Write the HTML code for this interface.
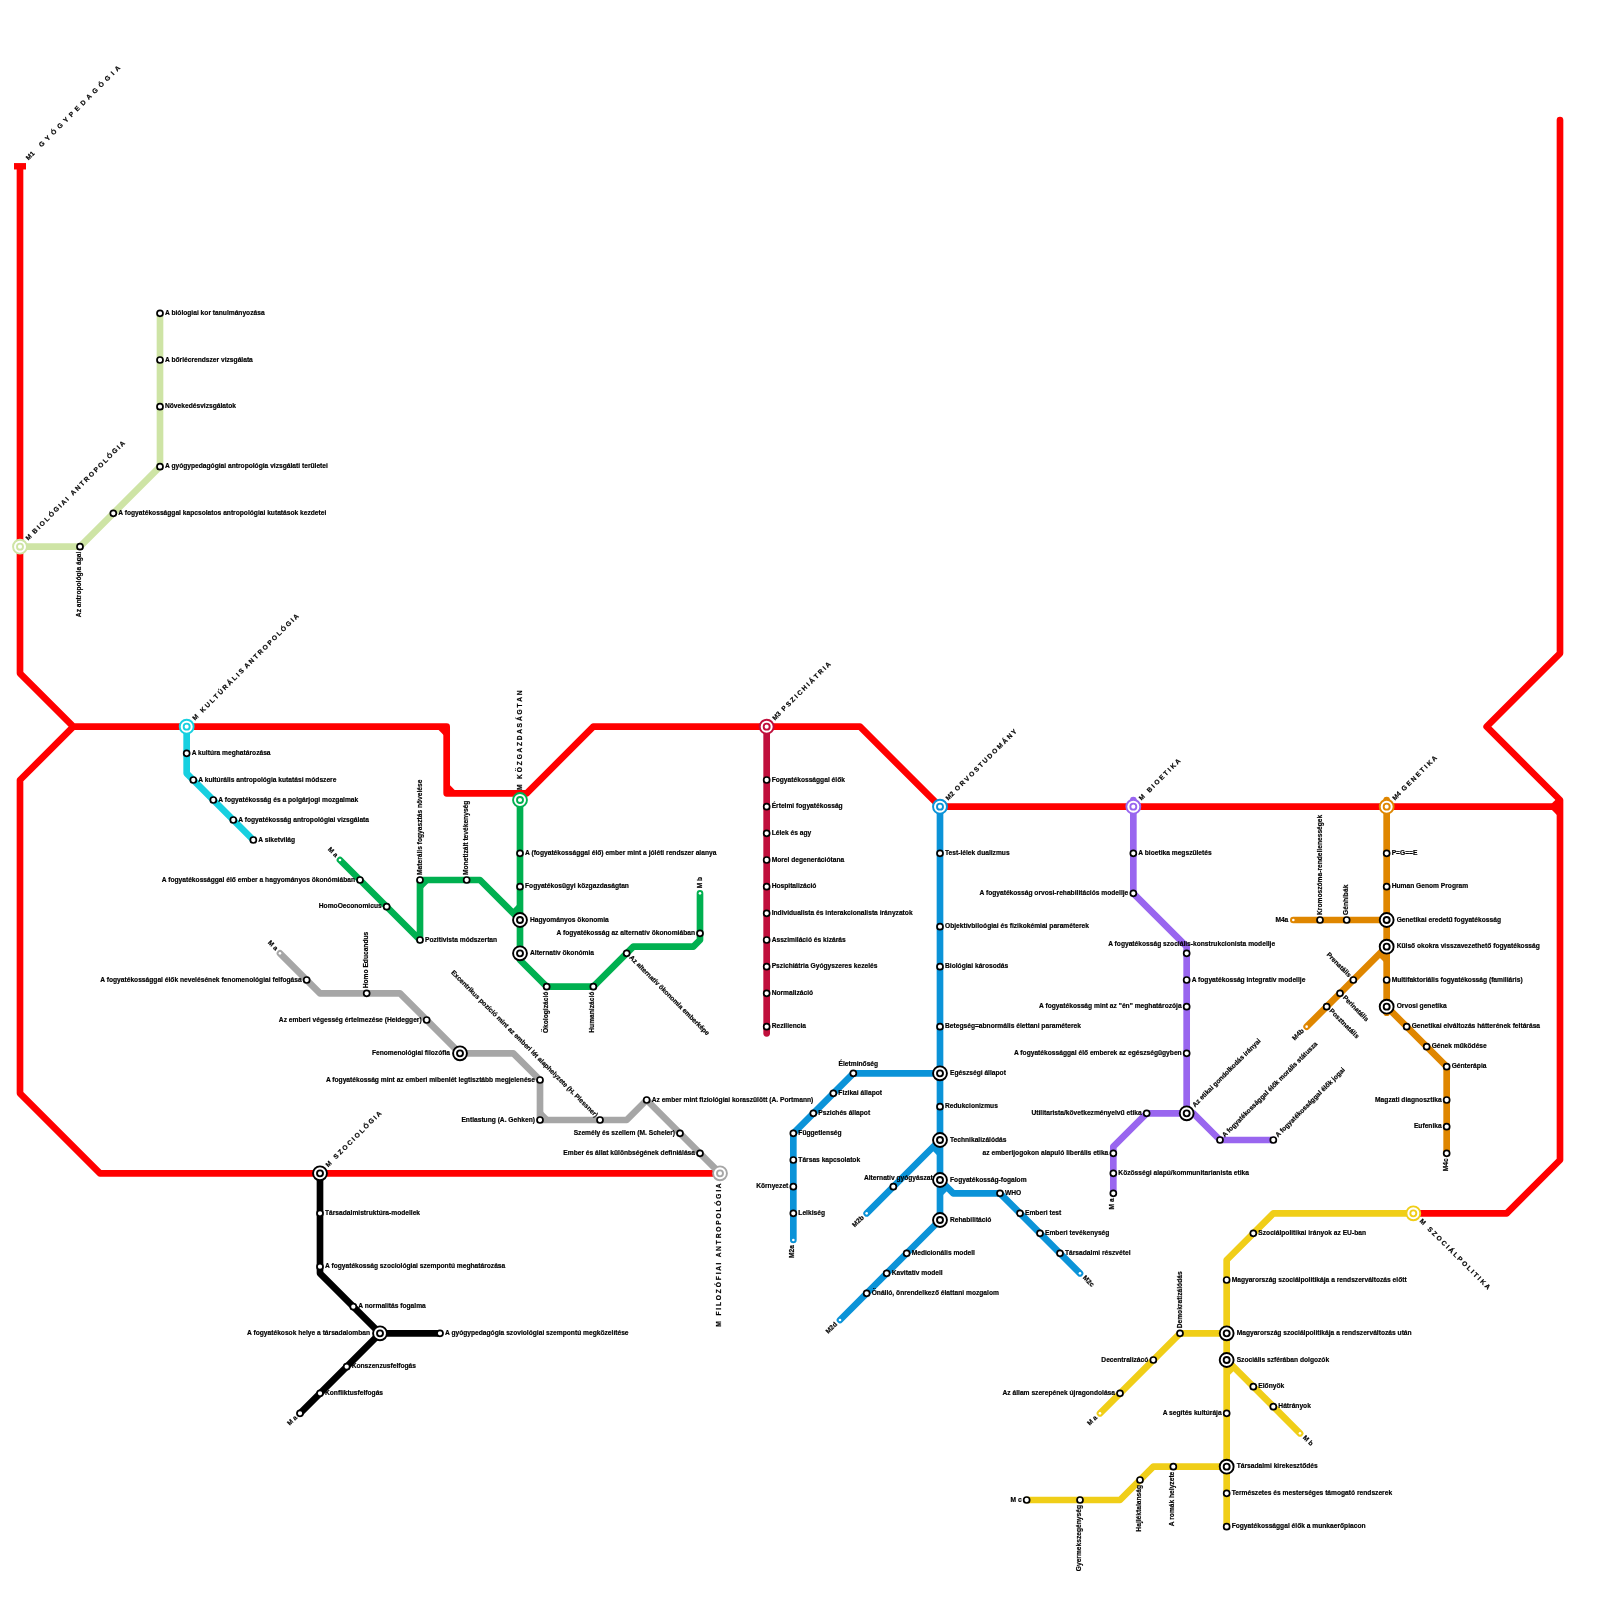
<!DOCTYPE html>
<html><head><meta charset="utf-8"><title>Metro map</title>
<style>
html,body{margin:0;padding:0;background:#fff}
svg{display:block;will-change:transform}
text{font-family:"Liberation Sans",sans-serif;font-weight:bold;font-size:6.6667px;fill:#000;stroke:#000;stroke-width:0.18px}
</style></head><body>
<svg width="1600" height="1600" viewBox="0 0 1600 1600">
<rect width="1600" height="1600" fill="#fff"/>
<path d="M20 166.67 L20 673.33 L73.33 726.67 L446.67 726.67 L446.67 793.33 L526.67 793.33 L593.33 726.67 L860 726.67 L940 806.67 L1560 806.67" stroke="#ff0000" stroke-width="6.67" stroke-linecap="butt" stroke-linejoin="round" fill="none"/>
<path d="M73.33 726.67 L20 780 L20 1093.33 L100 1173.33 L720 1173.33" stroke="#ff0000" stroke-width="6.67" stroke-linecap="butt" stroke-linejoin="round" fill="none"/>
<path d="M1560 120 L1560 653.33 L1486.67 726.67 L1560 800 L1560 1160 L1506.67 1213.33 L1413.33 1213.33" stroke="#ff0000" stroke-width="6.67" stroke-linecap="round" stroke-linejoin="round" fill="none"/>
<path d="M440 726.67 L446.67 733.33" stroke="#ff0000" stroke-width="6.67" stroke-linecap="butt" stroke-linejoin="round" fill="none"/>
<path d="M446.67 786.67 L453.33 793.33" stroke="#ff0000" stroke-width="6.67" stroke-linecap="butt" stroke-linejoin="round" fill="none"/>
<path d="M1553.33 806.67 L1560 813.33" stroke="#ff0000" stroke-width="6.67" stroke-linecap="butt" stroke-linejoin="round" fill="none"/>
<path d="M1553.33 806.67 L1560 800" stroke="#ff0000" stroke-width="6.67" stroke-linecap="butt" stroke-linejoin="round" fill="none"/>
<rect x="14" y="163.07" width="12.0" height="6.4" fill="#ff0000"/>
<path d="M20 546.67 L80 546.67 L160 466.67 L160 313.33" stroke="#cee4a5" stroke-width="6.67" stroke-linecap="butt" stroke-linejoin="round" fill="none"/>
<path d="M186.67 726.67 L186.67 773.33 L253.33 840" stroke="#17d0e0" stroke-width="6.67" stroke-linecap="butt" stroke-linejoin="round" fill="none"/>
<path d="M520 800 L520 960 L546.67 986.67 L593.33 986.67 L633.33 946.67 L693.33 946.67 L700 940 L700 893.33" stroke="#00b050" stroke-width="6.67" stroke-linecap="round" stroke-linejoin="round" fill="none"/>
<path d="M340 860 L420 940 L420 880 L480 880 L520 920" stroke="#00b050" stroke-width="6.67" stroke-linecap="round" stroke-linejoin="round" fill="none"/>
<path d="M420 886.67 L426.67 880" stroke="#00b050" stroke-width="6.67" stroke-linecap="butt" stroke-linejoin="round" fill="none"/>
<path d="M513.33 913.33 L520 906.67" stroke="#00b050" stroke-width="6.67" stroke-linecap="butt" stroke-linejoin="round" fill="none"/>
<path d="M280 953.33 L320 993.33 L400 993.33 L460 1053.33 L513.33 1053.33 L540 1080 L540 1120 L626.67 1120 L646.67 1100 L720 1173.33" stroke="#a6a6a6" stroke-width="6.67" stroke-linecap="round" stroke-linejoin="round" fill="none"/>
<path d="M540 1113.33 L546.67 1120" stroke="#a6a6a6" stroke-width="6.67" stroke-linecap="butt" stroke-linejoin="round" fill="none"/>
<path d="M320 1173.33 L320 1273.33 L380 1333.33 L440 1333.33" stroke="#000000" stroke-width="6.67" stroke-linecap="round" stroke-linejoin="round" fill="none"/>
<path d="M380 1333.33 L300 1413.33" stroke="#000000" stroke-width="6.67" stroke-linecap="round" stroke-linejoin="round" fill="none"/>
<path d="M766.67 726.67 L766.67 1033.33" stroke="#c00f3c" stroke-width="6.67" stroke-linecap="round" stroke-linejoin="round" fill="none"/>
<path d="M940 806.67 L940 1220 L840 1320" stroke="#0b93d8" stroke-width="6.67" stroke-linecap="round" stroke-linejoin="round" fill="none"/>
<path d="M940 1073.33 L853.33 1073.33 L793.33 1133.33 L793.33 1240" stroke="#0b93d8" stroke-width="6.67" stroke-linecap="round" stroke-linejoin="round" fill="none"/>
<path d="M940 1140 L866.67 1213.33" stroke="#0b93d8" stroke-width="6.67" stroke-linecap="round" stroke-linejoin="round" fill="none"/>
<path d="M940 1180 L953.33 1193.33 L1000 1193.33 L1080 1273.33" stroke="#0b93d8" stroke-width="6.67" stroke-linecap="round" stroke-linejoin="round" fill="none"/>
<path d="M933.33 1146.67 L940 1153.33" stroke="#0b93d8" stroke-width="6.67" stroke-linecap="butt" stroke-linejoin="round" fill="none"/>
<path d="M946.67 1186.67 L940 1193.33" stroke="#0b93d8" stroke-width="6.67" stroke-linecap="butt" stroke-linejoin="round" fill="none"/>
<path d="M1133.33 800 L1133.33 893.33 L1186.67 946.67 L1186.67 1113.33 L1146.67 1113.33 L1113.33 1146.67 L1113.33 1193.33" stroke="#9966ef" stroke-width="6.67" stroke-linecap="round" stroke-linejoin="round" fill="none"/>
<path d="M1186.67 1113.33 L1193.33 1113.33 L1220 1140 L1273.33 1140" stroke="#9966ef" stroke-width="6.67" stroke-linecap="round" stroke-linejoin="round" fill="none"/>
<path d="M1386.67 800 L1386.67 1006.67 L1446.67 1066.67 L1446.67 1153.33" stroke="#df8600" stroke-width="6.67" stroke-linecap="round" stroke-linejoin="round" fill="none"/>
<path d="M1386.67 1006.67 L1386.67 1012.67" stroke="#df8600" stroke-width="6.67" stroke-linecap="round" stroke-linejoin="round" fill="none"/>
<path d="M1380 953.33 L1386.67 960" stroke="#df8600" stroke-width="6.67" stroke-linecap="butt" stroke-linejoin="round" fill="none"/>
<path d="M1386.67 920 L1293.33 920" stroke="#df8600" stroke-width="6.67" stroke-linecap="round" stroke-linejoin="round" fill="none"/>
<path d="M1386.67 946.67 L1306.67 1026.67" stroke="#df8600" stroke-width="6.67" stroke-linecap="round" stroke-linejoin="round" fill="none"/>
<path d="M1413.33 1213.33 L1273.33 1213.33 L1226.67 1260 L1226.67 1526.67" stroke="#f0ce18" stroke-width="6.67" stroke-linecap="round" stroke-linejoin="round" fill="none"/>
<path d="M1226.67 1333.33 L1180 1333.33 L1100 1413.33" stroke="#f0ce18" stroke-width="6.67" stroke-linecap="round" stroke-linejoin="round" fill="none"/>
<path d="M1226.67 1360 L1300 1433.33" stroke="#f0ce18" stroke-width="6.67" stroke-linecap="round" stroke-linejoin="round" fill="none"/>
<path d="M1233.33 1366.67 L1226.67 1373.33" stroke="#f0ce18" stroke-width="6.67" stroke-linecap="butt" stroke-linejoin="round" fill="none"/>
<path d="M1226.67 1466.67 L1153.33 1466.67 L1120 1500 L1026.67 1500" stroke="#f0ce18" stroke-width="6.67" stroke-linecap="round" stroke-linejoin="round" fill="none"/>
<text x="165" y="314.93">A biólogiai kor tanulmányozása</text>
<text x="165" y="361.6">A bőrlécrendszer vizsgálata</text>
<text x="165" y="408.27">Növekedésvizsgálatok</text>
<text x="165" y="468.27">A gyógypedagógiai antropológia vizsgálati területei</text>
<text x="118.33" y="514.93">A fogyatékossággal kapcsolatos antropológiai kutatások kezdetei</text>
<text transform="translate(80 546.67) rotate(-90)" x="-5" y="0.9" text-anchor="end">Az antropológia ágai</text>
<text x="191.67" y="754.93">A kultúra meghatározása</text>
<text x="198.33" y="781.6">A kultúrális antropológia kutatási módszere</text>
<text x="218.33" y="801.6">A fogyatékosság és a polgárjogi mozgalmak</text>
<text x="238.33" y="821.6">A fogyatékosság antropológiai vizsgálata</text>
<text x="258.33" y="841.6">A siketvilág</text>
<text x="525" y="854.93">A (fogyatékossággal élő) ember mint a jóléti rendszer alanya</text>
<text x="525" y="888.27">Fogyatékosügyi közgazdaságtan</text>
<text x="530" y="921.6">Hagyományos ökonomia</text>
<text x="530" y="954.93">Alternatív ökonómia</text>
<text transform="translate(546.67 986.67) rotate(-90)" x="-5" y="0.9" text-anchor="end">Ökologizáció</text>
<text transform="translate(593.33 986.67) rotate(-90)" x="-5" y="0.9" text-anchor="end">Humanizáció</text>
<text transform="translate(626.67 953.33) rotate(45)" x="5" y="1.6">Az alternatív ökonomia emberképe</text>
<text x="695" y="934.93" text-anchor="end">A fogyatékosság az alternatív ökonomiában</text>
<text transform="translate(700 893.33) rotate(-90)" x="5" y="1.6">M b</text>
<text transform="translate(420 880) rotate(-90)" x="5" y="1.6">Materális fogyasztás növelése</text>
<text transform="translate(466.67 880) rotate(-90)" x="5" y="1.6">Monetizált tevékenység</text>
<text x="425" y="941.6">Pozitivista módszertan</text>
<text x="381.67" y="908.27" text-anchor="end">HomoOeconomicus</text>
<text x="355" y="881.6" text-anchor="end">A fogyatékossággal élő ember a hagyományos ökonómiában</text>
<text transform="translate(340 860) rotate(45)" x="-5" y="1.6" text-anchor="end">M a</text>
<text transform="translate(280 953.33) rotate(45)" x="-5" y="1.6" text-anchor="end">M a</text>
<text x="301.67" y="981.6" text-anchor="end">A fogyatékossággal élők nevelésének fenomenológiai felfogása</text>
<text transform="translate(366.67 993.33) rotate(-90)" x="5" y="1.6">Homo Educandus</text>
<text x="421.67" y="1021.6" text-anchor="end">Az emberi végesség értelmezése (Heidegger)</text>
<text x="450" y="1054.93" text-anchor="end">Fenomenológiai filozófia</text>
<text x="535" y="1081.6" text-anchor="end">A fogyatékosság mint az emberi mibenlét legtisztább megjelenése</text>
<text x="535" y="1121.6" text-anchor="end">Entlastung (A. Gehken)</text>
<text transform="translate(600 1120) rotate(45)" x="-5" y="1.6" text-anchor="end">Excentrikus pozíció mint az emberi lét alaphelyzete (H. Plessner)</text>
<text x="651.67" y="1101.6">Az ember mint fiziológiai koraszülött (A. Portmann)</text>
<text x="675" y="1134.93" text-anchor="end">Személy és szellem (M. Scheler)</text>
<text x="695" y="1154.93" text-anchor="end">Ember és állat különbségének definiálása</text>
<text x="325" y="1214.93">Társadalmistruktúra-modellek</text>
<text x="325" y="1268.27">A fogyatékosság szociológiai szempontú meghatározása</text>
<text x="358.33" y="1308.27">A normalitás fogalma</text>
<text x="370" y="1334.93" text-anchor="end">A fogyatékosok helye a társadalomban</text>
<text x="445" y="1334.93">A gyógypedagógia szoviológiai szempontú megközelítése</text>
<text x="351.67" y="1368.27">Konszenzusfelfogás</text>
<text x="325" y="1394.93">Konfliktusfelfogás</text>
<text transform="translate(300 1413.33) rotate(-45)" x="-5" y="1.6" text-anchor="end">M a</text>
<text x="771.67" y="781.6">Fogyatékossággal élők</text>
<text x="771.67" y="808.27">Értelmi fogyatékosság</text>
<text x="771.67" y="834.93">Lélek és agy</text>
<text x="771.67" y="861.6">Morel degenerációtana</text>
<text x="771.67" y="888.27">Hospitalizáció</text>
<text x="771.67" y="914.93">Individualista és interakcionalista irányzatok</text>
<text x="771.67" y="941.6">Asszimiláció és kizárás</text>
<text x="771.67" y="968.27">Pszichiátria Gyógyszeres kezelés</text>
<text x="771.67" y="994.93">Normalizáció</text>
<text x="771.67" y="1028.27">Reziliencia</text>
<text x="945" y="854.93">Test-lélek dualizmus</text>
<text x="945" y="928.27">Objektívbiloógiai és fizikokémiai paraméterek</text>
<text x="945" y="968.27">Biológiai károsodás</text>
<text x="945" y="1028.27">Betegség=abnormális élettani paraméterek</text>
<text x="950" y="1074.93">Egészségi állapot</text>
<text x="945" y="1108.27">Redukcionizmus</text>
<text x="950" y="1141.6">Technikalizálódás</text>
<text x="950" y="1181.6">Fogyatékosság-fogalom</text>
<text x="950" y="1221.6">Rehabilitáció</text>
<text x="858.33" y="1066.43" text-anchor="middle">Életminőség</text>
<text x="838.33" y="1094.93">Fizikai állapot</text>
<text x="818.33" y="1114.93">Pszichés állapot</text>
<text x="798.33" y="1134.93">Függetlenség</text>
<text x="798.33" y="1161.6">Társas kapcsolatok</text>
<text x="788.33" y="1188.27" text-anchor="end">Környezet</text>
<text x="798.33" y="1214.93">Lelkiség</text>
<text transform="translate(793.33 1240) rotate(-90)" x="-5" y="0.9" text-anchor="end">M2a</text>
<text x="898.33" y="1179.77" text-anchor="middle">Alternatív gyógyászat</text>
<text transform="translate(866.67 1213.33) rotate(-45)" x="-5" y="1.6" text-anchor="end">M2b</text>
<text x="1005" y="1194.93">WHO</text>
<text x="1025" y="1214.93">Emberi test</text>
<text x="1045" y="1234.93">Emberi tevékenység</text>
<text x="1065" y="1254.93">Társadalmi részvétel</text>
<text transform="translate(1080 1273.33) rotate(45)" x="5" y="1.6">M2c</text>
<text x="911.67" y="1254.93">Medicionális modell</text>
<text x="891.67" y="1274.93">Kavitatív modell</text>
<text x="871.67" y="1294.93">Önálló, önrendelkező élattani mozgalom</text>
<text transform="translate(840 1320) rotate(-45)" x="-5" y="1.6" text-anchor="end">M2d</text>
<text x="1138.33" y="854.93">A bioetika megszületés</text>
<text x="1128.33" y="894.93" text-anchor="end">A fogyatékosság orvosi-rehabilitációs modellje</text>
<text x="1191.67" y="946.43" text-anchor="middle">A fogyatékosság szociális-konstrukcionista modellje</text>
<text x="1191.67" y="981.6">A fogyatékosság integratív modellje</text>
<text x="1181.67" y="1008.27" text-anchor="end">A fogyatékosság mint az &quot;én&quot; meghatározója</text>
<text x="1181.67" y="1054.93" text-anchor="end">A fogyatékossággal élő emberek az egészségügyben</text>
<text transform="translate(1186.67 1113.33) rotate(-45)" x="10" y="1.6">Az etikai gondolkodás irányai</text>
<text x="1141.67" y="1114.93" text-anchor="end">Utilitarista/következményelvű etika</text>
<text transform="translate(1220 1140) rotate(-45)" x="5" y="1.6">A fogyatékossággal élők morális státusza</text>
<text transform="translate(1273.33 1140) rotate(-45)" x="5" y="1.6">A fogyatékossággal élők jogai</text>
<text x="1108.33" y="1154.93" text-anchor="end">az emberijogokon alapuló liberális etika</text>
<text x="1118.33" y="1174.93">Közösségi alapú/kommunitarianista etika</text>
<text transform="translate(1113.33 1193.33) rotate(-90)" x="-5" y="0.9" text-anchor="end">M a</text>
<text x="1391.67" y="854.93">P=G==E</text>
<text x="1391.67" y="888.27">Human Genom Program</text>
<text x="1396.67" y="921.6">Genetikai eredetű fogyatékosság</text>
<text x="1396.67" y="948.27">Külső okokra visszavezethető fogyatékosság</text>
<text x="1391.67" y="981.6">Multifaktoriális fogyatékosság (familiáris)</text>
<text x="1396.67" y="1008.27">Orvosi genetika</text>
<text x="1288.33" y="921.6" text-anchor="end">M4a</text>
<text transform="translate(1320 920) rotate(-90)" x="5" y="1.6">Kromoszóma-rendellenességek</text>
<text transform="translate(1346.67 920) rotate(-90)" x="5" y="1.6">Génhibák</text>
<text transform="translate(1353.33 980) rotate(45)" x="-5" y="1.6" text-anchor="end">Prenatális</text>
<text transform="translate(1340 993.33) rotate(45)" x="5" y="1.6">Perinatális</text>
<text transform="translate(1326.67 1006.67) rotate(45)" x="5" y="1.6">Posztnatális</text>
<text transform="translate(1306.67 1026.67) rotate(-45)" x="-5" y="1.6" text-anchor="end">M4b</text>
<text x="1411.67" y="1028.27">Genetikai elváltozás hátterének feltárása</text>
<text x="1431.67" y="1048.27">Gének működése</text>
<text x="1451.67" y="1068.27">Génterápia</text>
<text x="1441.67" y="1101.6" text-anchor="end">Magzati diagnosztika</text>
<text x="1441.67" y="1128.27" text-anchor="end">Eufenika</text>
<text transform="translate(1446.67 1153.33) rotate(-90)" x="-5" y="0.9" text-anchor="end">M4c</text>
<text x="1258.33" y="1234.93">Szociálpolitikai irányok az EU-ban</text>
<text x="1231.67" y="1281.6">Magyarország szociálpolitikája a rendszerváltozás előtt</text>
<text x="1236.67" y="1334.93">Magyarország szociálpolitikája a rendszerváltozás után</text>
<text x="1236.67" y="1361.6">Szociális szférában dolgozók</text>
<text x="1221.67" y="1414.93" text-anchor="end">A segítés kultúrája</text>
<text x="1236.67" y="1468.27">Társadalmi kirekesztődés</text>
<text x="1231.67" y="1494.93">Természetes és mesterséges támogató rendszerek</text>
<text x="1231.67" y="1528.27">Fogyatékossággal élők a munkaerőpiacon</text>
<text transform="translate(1180 1333.33) rotate(-90)" x="5" y="1.6">Demokratizálódás</text>
<text x="1148.33" y="1361.6" text-anchor="end">Decentralizácó</text>
<text x="1115" y="1394.93" text-anchor="end">Az állam szerepének újragondolása</text>
<text transform="translate(1100 1413.33) rotate(-45)" x="-5" y="1.6" text-anchor="end">M a</text>
<text x="1258.33" y="1388.27">Előnyök</text>
<text x="1278.33" y="1408.27">Hátrányok</text>
<text transform="translate(1300 1433.33) rotate(45)" x="5" y="1.6">M b</text>
<text transform="translate(1173.33 1466.67) rotate(-90)" x="-5" y="0.9" text-anchor="end">A romák helyzete</text>
<text transform="translate(1140 1480) rotate(-90)" x="-5" y="0.9" text-anchor="end">Hajléktalanság</text>
<text transform="translate(1080 1500) rotate(-90)" x="-5" y="0.9" text-anchor="end">Gyermekszegénység</text>
<text x="1021.67" y="1501.6" text-anchor="end">M c</text>
<text transform="translate(20 166.67) rotate(-45)" x="10.4" y="1.6" xml:space="preserve" style="white-space:pre">M1     G  Y  Ó  G  Y  P  E  D  A  G  Ó  G  I  A</text>
<text transform="translate(20 546.67) rotate(-45)" x="10" y="1.6" xml:space="preserve" style="white-space:pre">M  B I O L Ó G I A I   A N T R O P O L Ó G I A</text>
<text transform="translate(186.67 726.67) rotate(-45)" x="10" y="1.6" xml:space="preserve" style="white-space:pre">M   K U L T Ú R Á L I S  A N T R O P O L Ó G I A</text>
<text transform="translate(520 800) rotate(-90)" x="10" y="1.6" xml:space="preserve" style="white-space:pre">M   K Ö Z G A Z D A S Á G T A N</text>
<text transform="translate(766.67 726.67) rotate(-45)" x="10" y="1.6" xml:space="preserve" style="white-space:pre">M3  P S Z I C H I Á T R I A</text>
<text transform="translate(940 806.67) rotate(-45)" x="10" y="1.6" xml:space="preserve" style="white-space:pre">M2  O R V O S T U D O M Á N Y</text>
<text transform="translate(1133.33 806.67) rotate(-45)" x="10" y="1.6" xml:space="preserve" style="white-space:pre">M   B I O E T I K A</text>
<text transform="translate(1386.67 806.67) rotate(-45)" x="10" y="1.6" xml:space="preserve" style="white-space:pre">M4  G E N E T I K A</text>
<text transform="translate(1413.33 1213.33) rotate(45)" x="10" y="1.6" xml:space="preserve" style="white-space:pre">M   S Z O C I Á L P O L I T I K A</text>
<text transform="translate(720 1173.33) rotate(-90)" x="-10" y="0.9" text-anchor="end" xml:space="preserve" style="white-space:pre">M   F I L O Z Ó F I A I   A N T R O P O L Ó G I A</text>
<text transform="translate(320 1173.33) rotate(-45)" x="10" y="1.6" xml:space="preserve" style="white-space:pre">M   S Z O C I O L Ó G I A</text>
<circle cx="160" cy="313.33" r="3.0" fill="#fff" stroke="#000" stroke-width="1.7"/>
<circle cx="160" cy="360" r="3.0" fill="#fff" stroke="#000" stroke-width="1.7"/>
<circle cx="160" cy="406.67" r="3.0" fill="#fff" stroke="#000" stroke-width="1.7"/>
<circle cx="160" cy="466.67" r="3.0" fill="#fff" stroke="#000" stroke-width="1.7"/>
<circle cx="113.33" cy="513.33" r="3.0" fill="#fff" stroke="#000" stroke-width="1.7"/>
<circle cx="80" cy="546.67" r="3.0" fill="#fff" stroke="#000" stroke-width="1.7"/>
<circle cx="186.67" cy="753.33" r="3.0" fill="#fff" stroke="#000" stroke-width="1.7"/>
<circle cx="193.33" cy="780" r="3.0" fill="#fff" stroke="#000" stroke-width="1.7"/>
<circle cx="213.33" cy="800" r="3.0" fill="#fff" stroke="#000" stroke-width="1.7"/>
<circle cx="233.33" cy="820" r="3.0" fill="#fff" stroke="#000" stroke-width="1.7"/>
<circle cx="253.33" cy="840" r="3.0" fill="#fff" stroke="#000" stroke-width="1.7"/>
<circle cx="520" cy="853.33" r="3.0" fill="#fff" stroke="#000" stroke-width="1.7"/>
<circle cx="520" cy="886.67" r="3.0" fill="#fff" stroke="#000" stroke-width="1.7"/>
<circle cx="520" cy="920" r="6.95" fill="#fff" stroke="#000" stroke-width="1.9"/>
<circle cx="520" cy="920" r="3.0" fill="#fff" stroke="#000" stroke-width="1.9"/>
<circle cx="520" cy="953.33" r="6.95" fill="#fff" stroke="#000" stroke-width="1.9"/>
<circle cx="520" cy="953.33" r="3.0" fill="#fff" stroke="#000" stroke-width="1.9"/>
<circle cx="546.67" cy="986.67" r="3.0" fill="#fff" stroke="#000" stroke-width="1.7"/>
<circle cx="593.33" cy="986.67" r="3.0" fill="#fff" stroke="#000" stroke-width="1.7"/>
<circle cx="626.67" cy="953.33" r="3.0" fill="#fff" stroke="#000" stroke-width="1.7"/>
<circle cx="700" cy="933.33" r="3.0" fill="#fff" stroke="#000" stroke-width="1.7"/>
<circle cx="700" cy="893.33" r="1.3" fill="#fff"/>
<circle cx="420" cy="880" r="3.0" fill="#fff" stroke="#000" stroke-width="1.7"/>
<circle cx="466.67" cy="880" r="3.0" fill="#fff" stroke="#000" stroke-width="1.7"/>
<circle cx="420" cy="940" r="3.0" fill="#fff" stroke="#000" stroke-width="1.7"/>
<circle cx="386.67" cy="906.67" r="3.0" fill="#fff" stroke="#000" stroke-width="1.7"/>
<circle cx="360" cy="880" r="3.0" fill="#fff" stroke="#000" stroke-width="1.7"/>
<circle cx="340" cy="860" r="1.3" fill="#fff"/>
<circle cx="280" cy="953.33" r="1.3" fill="#fff"/>
<circle cx="306.67" cy="980" r="3.0" fill="#fff" stroke="#000" stroke-width="1.7"/>
<circle cx="366.67" cy="993.33" r="3.0" fill="#fff" stroke="#000" stroke-width="1.7"/>
<circle cx="426.67" cy="1020" r="3.0" fill="#fff" stroke="#000" stroke-width="1.7"/>
<circle cx="460" cy="1053.33" r="6.95" fill="#fff" stroke="#000" stroke-width="1.9"/>
<circle cx="460" cy="1053.33" r="3.0" fill="#fff" stroke="#000" stroke-width="1.9"/>
<circle cx="540" cy="1080" r="3.0" fill="#fff" stroke="#000" stroke-width="1.7"/>
<circle cx="540" cy="1120" r="3.0" fill="#fff" stroke="#000" stroke-width="1.7"/>
<circle cx="600" cy="1120" r="3.0" fill="#fff" stroke="#000" stroke-width="1.7"/>
<circle cx="646.67" cy="1100" r="3.0" fill="#fff" stroke="#000" stroke-width="1.7"/>
<circle cx="680" cy="1133.33" r="3.0" fill="#fff" stroke="#000" stroke-width="1.7"/>
<circle cx="700" cy="1153.33" r="3.0" fill="#fff" stroke="#000" stroke-width="1.7"/>
<circle cx="320" cy="1213.33" r="3.0" fill="#fff" stroke="#000" stroke-width="1.7"/>
<circle cx="320" cy="1266.67" r="3.0" fill="#fff" stroke="#000" stroke-width="1.7"/>
<circle cx="353.33" cy="1306.67" r="3.0" fill="#fff" stroke="#000" stroke-width="1.7"/>
<circle cx="380" cy="1333.33" r="6.95" fill="#fff" stroke="#000" stroke-width="1.9"/>
<circle cx="380" cy="1333.33" r="3.0" fill="#fff" stroke="#000" stroke-width="1.9"/>
<circle cx="440" cy="1333.33" r="3.0" fill="#fff" stroke="#000" stroke-width="1.7"/>
<circle cx="346.67" cy="1366.67" r="3.0" fill="#fff" stroke="#000" stroke-width="1.7"/>
<circle cx="320" cy="1393.33" r="3.0" fill="#fff" stroke="#000" stroke-width="1.7"/>
<circle cx="300" cy="1413.33" r="3.0" fill="#fff" stroke="#000" stroke-width="1.7"/>
<circle cx="766.67" cy="780" r="3.0" fill="#fff" stroke="#000" stroke-width="1.7"/>
<circle cx="766.67" cy="806.67" r="3.0" fill="#fff" stroke="#000" stroke-width="1.7"/>
<circle cx="766.67" cy="833.33" r="3.0" fill="#fff" stroke="#000" stroke-width="1.7"/>
<circle cx="766.67" cy="860" r="3.0" fill="#fff" stroke="#000" stroke-width="1.7"/>
<circle cx="766.67" cy="886.67" r="3.0" fill="#fff" stroke="#000" stroke-width="1.7"/>
<circle cx="766.67" cy="913.33" r="3.0" fill="#fff" stroke="#000" stroke-width="1.7"/>
<circle cx="766.67" cy="940" r="3.0" fill="#fff" stroke="#000" stroke-width="1.7"/>
<circle cx="766.67" cy="966.67" r="3.0" fill="#fff" stroke="#000" stroke-width="1.7"/>
<circle cx="766.67" cy="993.33" r="3.0" fill="#fff" stroke="#000" stroke-width="1.7"/>
<circle cx="766.67" cy="1026.67" r="3.0" fill="#fff" stroke="#000" stroke-width="1.7"/>
<circle cx="940" cy="853.33" r="3.0" fill="#fff" stroke="#000" stroke-width="1.7"/>
<circle cx="940" cy="926.67" r="3.0" fill="#fff" stroke="#000" stroke-width="1.7"/>
<circle cx="940" cy="966.67" r="3.0" fill="#fff" stroke="#000" stroke-width="1.7"/>
<circle cx="940" cy="1026.67" r="3.0" fill="#fff" stroke="#000" stroke-width="1.7"/>
<circle cx="940" cy="1073.33" r="6.95" fill="#fff" stroke="#000" stroke-width="1.9"/>
<circle cx="940" cy="1073.33" r="3.0" fill="#fff" stroke="#000" stroke-width="1.9"/>
<circle cx="940" cy="1106.67" r="3.0" fill="#fff" stroke="#000" stroke-width="1.7"/>
<circle cx="940" cy="1140" r="6.95" fill="#fff" stroke="#000" stroke-width="1.9"/>
<circle cx="940" cy="1140" r="3.0" fill="#fff" stroke="#000" stroke-width="1.9"/>
<circle cx="940" cy="1180" r="6.95" fill="#fff" stroke="#000" stroke-width="1.9"/>
<circle cx="940" cy="1180" r="3.0" fill="#fff" stroke="#000" stroke-width="1.9"/>
<circle cx="940" cy="1220" r="6.95" fill="#fff" stroke="#000" stroke-width="1.9"/>
<circle cx="940" cy="1220" r="3.0" fill="#fff" stroke="#000" stroke-width="1.9"/>
<circle cx="853.33" cy="1073.33" r="3.0" fill="#fff" stroke="#000" stroke-width="1.7"/>
<circle cx="833.33" cy="1093.33" r="3.0" fill="#fff" stroke="#000" stroke-width="1.7"/>
<circle cx="813.33" cy="1113.33" r="3.0" fill="#fff" stroke="#000" stroke-width="1.7"/>
<circle cx="793.33" cy="1133.33" r="3.0" fill="#fff" stroke="#000" stroke-width="1.7"/>
<circle cx="793.33" cy="1160" r="3.0" fill="#fff" stroke="#000" stroke-width="1.7"/>
<circle cx="793.33" cy="1186.67" r="3.0" fill="#fff" stroke="#000" stroke-width="1.7"/>
<circle cx="793.33" cy="1213.33" r="3.0" fill="#fff" stroke="#000" stroke-width="1.7"/>
<circle cx="793.33" cy="1240" r="1.3" fill="#fff"/>
<circle cx="893.33" cy="1186.67" r="3.0" fill="#fff" stroke="#000" stroke-width="1.7"/>
<circle cx="866.67" cy="1213.33" r="1.3" fill="#fff"/>
<circle cx="1000" cy="1193.33" r="3.0" fill="#fff" stroke="#000" stroke-width="1.7"/>
<circle cx="1020" cy="1213.33" r="3.0" fill="#fff" stroke="#000" stroke-width="1.7"/>
<circle cx="1040" cy="1233.33" r="3.0" fill="#fff" stroke="#000" stroke-width="1.7"/>
<circle cx="1060" cy="1253.33" r="3.0" fill="#fff" stroke="#000" stroke-width="1.7"/>
<circle cx="1080" cy="1273.33" r="1.3" fill="#fff"/>
<circle cx="906.67" cy="1253.33" r="3.0" fill="#fff" stroke="#000" stroke-width="1.7"/>
<circle cx="886.67" cy="1273.33" r="3.0" fill="#fff" stroke="#000" stroke-width="1.7"/>
<circle cx="866.67" cy="1293.33" r="3.0" fill="#fff" stroke="#000" stroke-width="1.7"/>
<circle cx="840" cy="1320" r="1.3" fill="#fff"/>
<circle cx="1133.33" cy="853.33" r="3.0" fill="#fff" stroke="#000" stroke-width="1.7"/>
<circle cx="1133.33" cy="893.33" r="3.0" fill="#fff" stroke="#000" stroke-width="1.7"/>
<circle cx="1186.67" cy="953.33" r="3.0" fill="#fff" stroke="#000" stroke-width="1.7"/>
<circle cx="1186.67" cy="980" r="3.0" fill="#fff" stroke="#000" stroke-width="1.7"/>
<circle cx="1186.67" cy="1006.67" r="3.0" fill="#fff" stroke="#000" stroke-width="1.7"/>
<circle cx="1186.67" cy="1053.33" r="3.0" fill="#fff" stroke="#000" stroke-width="1.7"/>
<circle cx="1186.67" cy="1113.33" r="6.95" fill="#fff" stroke="#000" stroke-width="1.9"/>
<circle cx="1186.67" cy="1113.33" r="3.0" fill="#fff" stroke="#000" stroke-width="1.9"/>
<circle cx="1146.67" cy="1113.33" r="3.0" fill="#fff" stroke="#000" stroke-width="1.7"/>
<circle cx="1220" cy="1140" r="3.0" fill="#fff" stroke="#000" stroke-width="1.7"/>
<circle cx="1273.33" cy="1140" r="3.0" fill="#fff" stroke="#000" stroke-width="1.7"/>
<circle cx="1113.33" cy="1153.33" r="3.0" fill="#fff" stroke="#000" stroke-width="1.7"/>
<circle cx="1113.33" cy="1173.33" r="3.0" fill="#fff" stroke="#000" stroke-width="1.7"/>
<circle cx="1113.33" cy="1193.33" r="3.0" fill="#fff" stroke="#000" stroke-width="1.7"/>
<circle cx="1386.67" cy="853.33" r="3.0" fill="#fff" stroke="#000" stroke-width="1.7"/>
<circle cx="1386.67" cy="886.67" r="3.0" fill="#fff" stroke="#000" stroke-width="1.7"/>
<circle cx="1386.67" cy="920" r="6.95" fill="#fff" stroke="#000" stroke-width="1.9"/>
<circle cx="1386.67" cy="920" r="3.0" fill="#fff" stroke="#000" stroke-width="1.9"/>
<circle cx="1386.67" cy="946.67" r="6.95" fill="#fff" stroke="#000" stroke-width="1.9"/>
<circle cx="1386.67" cy="946.67" r="3.0" fill="#fff" stroke="#000" stroke-width="1.9"/>
<circle cx="1386.67" cy="980" r="3.0" fill="#fff" stroke="#000" stroke-width="1.7"/>
<circle cx="1386.67" cy="1006.67" r="6.95" fill="#fff" stroke="#000" stroke-width="1.9"/>
<circle cx="1386.67" cy="1006.67" r="3.0" fill="#fff" stroke="#000" stroke-width="1.9"/>
<circle cx="1293.33" cy="920" r="1.3" fill="#fff"/>
<circle cx="1320" cy="920" r="3.0" fill="#fff" stroke="#000" stroke-width="1.7"/>
<circle cx="1346.67" cy="920" r="3.0" fill="#fff" stroke="#000" stroke-width="1.7"/>
<circle cx="1353.33" cy="980" r="3.0" fill="#fff" stroke="#000" stroke-width="1.7"/>
<circle cx="1340" cy="993.33" r="3.0" fill="#fff" stroke="#000" stroke-width="1.7"/>
<circle cx="1326.67" cy="1006.67" r="3.0" fill="#fff" stroke="#000" stroke-width="1.7"/>
<circle cx="1306.67" cy="1026.67" r="1.3" fill="#fff"/>
<circle cx="1406.67" cy="1026.67" r="3.0" fill="#fff" stroke="#000" stroke-width="1.7"/>
<circle cx="1426.67" cy="1046.67" r="3.0" fill="#fff" stroke="#000" stroke-width="1.7"/>
<circle cx="1446.67" cy="1066.67" r="3.0" fill="#fff" stroke="#000" stroke-width="1.7"/>
<circle cx="1446.67" cy="1100" r="3.0" fill="#fff" stroke="#000" stroke-width="1.7"/>
<circle cx="1446.67" cy="1126.67" r="3.0" fill="#fff" stroke="#000" stroke-width="1.7"/>
<circle cx="1446.67" cy="1153.33" r="3.0" fill="#fff" stroke="#000" stroke-width="1.7"/>
<circle cx="1253.33" cy="1233.33" r="3.0" fill="#fff" stroke="#000" stroke-width="1.7"/>
<circle cx="1226.67" cy="1280" r="3.0" fill="#fff" stroke="#000" stroke-width="1.7"/>
<circle cx="1226.67" cy="1333.33" r="6.95" fill="#fff" stroke="#000" stroke-width="1.9"/>
<circle cx="1226.67" cy="1333.33" r="3.0" fill="#fff" stroke="#000" stroke-width="1.9"/>
<circle cx="1226.67" cy="1360" r="6.95" fill="#fff" stroke="#000" stroke-width="1.9"/>
<circle cx="1226.67" cy="1360" r="3.0" fill="#fff" stroke="#000" stroke-width="1.9"/>
<circle cx="1226.67" cy="1413.33" r="3.0" fill="#fff" stroke="#000" stroke-width="1.7"/>
<circle cx="1226.67" cy="1466.67" r="6.95" fill="#fff" stroke="#000" stroke-width="1.9"/>
<circle cx="1226.67" cy="1466.67" r="3.0" fill="#fff" stroke="#000" stroke-width="1.9"/>
<circle cx="1226.67" cy="1493.33" r="3.0" fill="#fff" stroke="#000" stroke-width="1.7"/>
<circle cx="1226.67" cy="1526.67" r="3.0" fill="#fff" stroke="#000" stroke-width="1.7"/>
<circle cx="1180" cy="1333.33" r="3.0" fill="#fff" stroke="#000" stroke-width="1.7"/>
<circle cx="1153.33" cy="1360" r="3.0" fill="#fff" stroke="#000" stroke-width="1.7"/>
<circle cx="1120" cy="1393.33" r="3.0" fill="#fff" stroke="#000" stroke-width="1.7"/>
<circle cx="1100" cy="1413.33" r="1.3" fill="#fff"/>
<circle cx="1253.33" cy="1386.67" r="3.0" fill="#fff" stroke="#000" stroke-width="1.7"/>
<circle cx="1273.33" cy="1406.67" r="3.0" fill="#fff" stroke="#000" stroke-width="1.7"/>
<circle cx="1300" cy="1433.33" r="1.3" fill="#fff"/>
<circle cx="1173.33" cy="1466.67" r="3.0" fill="#fff" stroke="#000" stroke-width="1.7"/>
<circle cx="1140" cy="1480" r="3.0" fill="#fff" stroke="#000" stroke-width="1.7"/>
<circle cx="1080" cy="1500" r="3.0" fill="#fff" stroke="#000" stroke-width="1.7"/>
<circle cx="1026.67" cy="1500" r="3.0" fill="#fff" stroke="#000" stroke-width="1.7"/>
<circle cx="20" cy="546.67" r="6.95" fill="#fff" stroke="#cee4a5" stroke-width="1.9"/>
<circle cx="20" cy="546.67" r="3.0" fill="#fff" stroke="#cee4a5" stroke-width="1.9"/>
<circle cx="186.67" cy="726.67" r="6.95" fill="#fff" stroke="#17d0e0" stroke-width="1.9"/>
<circle cx="186.67" cy="726.67" r="3.0" fill="#fff" stroke="#17d0e0" stroke-width="1.9"/>
<circle cx="520" cy="800" r="6.95" fill="#fff" stroke="#00b050" stroke-width="1.9"/>
<circle cx="520" cy="800" r="3.0" fill="#fff" stroke="#00b050" stroke-width="1.9"/>
<circle cx="766.67" cy="726.67" r="6.95" fill="#fff" stroke="#c00f3c" stroke-width="1.9"/>
<circle cx="766.67" cy="726.67" r="3.0" fill="#fff" stroke="#c00f3c" stroke-width="1.9"/>
<circle cx="940" cy="806.67" r="6.95" fill="#fff" stroke="#0b93d8" stroke-width="1.9"/>
<circle cx="940" cy="806.67" r="3.0" fill="#fff" stroke="#0b93d8" stroke-width="1.9"/>
<circle cx="1133.33" cy="806.67" r="6.95" fill="#fff" stroke="#9966ef" stroke-width="1.9"/>
<circle cx="1133.33" cy="806.67" r="3.0" fill="#fff" stroke="#9966ef" stroke-width="1.9"/>
<circle cx="1386.67" cy="806.67" r="6.95" fill="#fff" stroke="#df8600" stroke-width="1.9"/>
<circle cx="1386.67" cy="806.67" r="3.0" fill="#fff" stroke="#df8600" stroke-width="1.9"/>
<circle cx="1413.33" cy="1213.33" r="6.95" fill="#fff" stroke="#f0ce18" stroke-width="1.9"/>
<circle cx="1413.33" cy="1213.33" r="3.0" fill="#fff" stroke="#f0ce18" stroke-width="1.9"/>
<circle cx="720" cy="1173.33" r="6.95" fill="#fff" stroke="#a6a6a6" stroke-width="1.9"/>
<circle cx="720" cy="1173.33" r="3.0" fill="#fff" stroke="#a6a6a6" stroke-width="1.9"/>
<circle cx="320" cy="1173.33" r="6.95" fill="#fff" stroke="#000000" stroke-width="1.9"/>
<circle cx="320" cy="1173.33" r="3.0" fill="#fff" stroke="#000000" stroke-width="1.9"/>
</svg>
</body></html>
